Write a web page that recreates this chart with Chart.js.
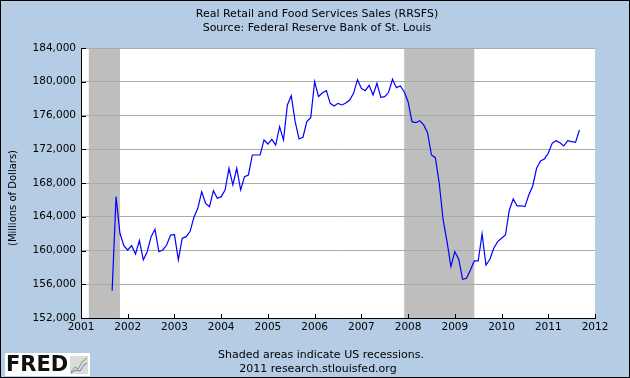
<!DOCTYPE html>
<html>
<head>
<meta charset="utf-8">
<script src="https://cdn.jsdelivr.net/npm/chart.js@4.4.1/dist/chart.umd.min.js"></script>
<style>
  html, body { margin: 0; padding: 0; background: #B4CDE5; }
  #wrap { width: 630px; height: 378px; position: relative; }
</style>
</head>
<body>
<div id="wrap"><canvas id="chart" width="630" height="378"></canvas></div>
<script>
// monthly observations, Sep 2001 - Sep 2011
const startMonth = '2001-09';
const sales = [
  155240, 166380, 162040, 160570,
  160060, 160570, 159590, 161170, 158880, 159860, 161640, 162510, 159860, 160060, 160650, 161840,
  161880, 158880, 161450, 161640, 162240, 163940, 165000, 166970, 165590, 165200, 167090, 166190,
  166380, 167170, 169740, 167770, 169740, 167170, 168750, 168950, 171320, 171320, 171320, 173100,
  172620, 173180, 172500, 174680, 173100, 177250, 178350, 175270, 173220, 173420, 175270, 175750,
  180010, 178230, 178700, 178940, 177440, 177130, 177440, 177250, 177480, 177840, 178630, 180250,
  179220, 178940, 179580, 178430, 179810, 178150, 178230, 178750, 180290, 179300, 179500, 178820,
  177640, 175270, 175150, 175390, 174880, 173970, 171320, 171000, 167960, 163620, 161050, 158090,
  159870, 158960, 156590, 156710, 157690, 158760, 158760, 161960, 158280, 158960, 160260, 161050,
  161450, 161840, 164800, 166110, 165280, 165300, 165200, 166580, 167650, 169740, 170610, 170850,
  171520, 172700, 173020, 172780, 172390, 173020, 172900, 172820, 174280
];
// US recessions (NBER), month the shading starts / ends
const recessionStart = ['2001-03', '2007-12'];
const recessionEnd = ['2001-11', '2009-06'];
const yTicks = [152000, 156000, 160000, 164000, 168000, 172000, 176000, 180000, 184000];
const xYears = [2001, 2002, 2003, 2004, 2005, 2006, 2007, 2008, 2009, 2010, 2011, 2012];

function toYear(s) {
  const p = s.split('-');
  return +p[0] + (+p[1] - 1) / 12;
}

const t0 = toYear(startMonth);
const points = sales.map((v, i) => ({ x: t0 + i / 12, y: v }));

const FONT = 'DejaVu Sans';

const fredDecor = {
  id: 'fredDecor',
  beforeDraw(chart) {
    const ctx = chart.ctx;
    ctx.save();
    ctx.fillStyle = '#B4CDE5';
    ctx.fillRect(0, 0, chart.width, chart.height);
    const a = chart.chartArea;
    ctx.fillStyle = '#ffffff';
    ctx.fillRect(a.left, a.top, a.right - a.left, a.bottom - a.top);
    // recession bars
    const xs = chart.scales.x;
    ctx.fillStyle = '#BEBEBE';
    recessionStart.forEach((s, i) => {
      const x1 = xs.getPixelForValue(toYear(s));
      const x2 = xs.getPixelForValue(toYear(recessionEnd[i]));
      ctx.fillRect(x1, a.top, x2 - x1, a.bottom - a.top);
    });
    ctx.restore();
  },
  afterDraw(chart) {
    const ctx = chart.ctx;
    const a = chart.chartArea;
    const xs = chart.scales.x, ys = chart.scales.y;
    ctx.save();
    // inward ticks
    ctx.strokeStyle = '#000';
    ctx.lineWidth = 1;
    ctx.beginPath();
    yTicks.forEach(v => {
      const y = Math.round(ys.getPixelForValue(v)) + 0.5;
      ctx.moveTo(a.left, y);
      ctx.lineTo(a.left + 5, y);
    });
    xYears.forEach(v => {
      const x = Math.round(xs.getPixelForValue(v)) + 0.5;
      ctx.moveTo(x, a.bottom);
      ctx.lineTo(x, a.bottom - 4);
    });
    ctx.stroke();

    // titles
    ctx.fillStyle = '#000';
    ctx.textAlign = 'center';
    ctx.textBaseline = 'middle';
    ctx.font = '11px "' + FONT + '"';
    ctx.fillText('Real Retail and Food Services Sales (RRSFS)', 317, 14);
    ctx.fillText('Source: Federal Reserve Bank of St. Louis', 317, 28);
    ctx.fillText('Shaded areas indicate US recessions.', 321, 355);
    ctx.fillText('2011 research.stlouisfed.org', 318, 369);

    // axis title
    ctx.save();
    ctx.translate(13, 198);
    ctx.rotate(-Math.PI / 2);
    ctx.font = '10px "' + FONT + '"';
    ctx.fillText('(Millions of Dollars)', 0, 0);
    ctx.restore();

    // FRED logo
    ctx.fillStyle = '#fff';
    ctx.fillRect(5, 353, 85, 23);
    ctx.fillStyle = '#111';
    ctx.textAlign = 'left';
    ctx.font = 'bold 21px "' + FONT + '"';
    ctx.fillText('FRED', 6, 365.5);
    ctx.fillStyle = '#dcdcdc';
    ctx.fillRect(70, 356, 18, 18);
    ctx.lineWidth = 1;
    ctx.strokeStyle = '#6aa84f';
    ctx.beginPath();
    ctx.moveTo(71, 372); ctx.lineTo(75, 367); ctx.lineTo(78, 369); ctx.lineTo(82, 362); ctx.lineTo(87, 358);
    ctx.stroke();
    ctx.strokeStyle = '#5b7fbf';
    ctx.beginPath();
    ctx.moveTo(71, 373); ctx.lineTo(76, 370); ctx.lineTo(80, 371); ctx.lineTo(84, 365); ctx.lineTo(87, 363);
    ctx.stroke();

    // outer frame
    ctx.strokeStyle = '#000';
    ctx.strokeRect(0.5, 0.5, chart.width - 1, chart.height - 1);
    ctx.restore();
  }
};

new Chart(document.getElementById('chart'), {
  type: 'line',
  data: {
    datasets: [{
      label: 'RRSFS',
      data: points,
      borderColor: '#0000FF',
      borderWidth: 1.2,
      pointRadius: 0,
      tension: 0,
      fill: false
    }]
  },
  options: {
    responsive: false,
    animation: false,
    devicePixelRatio: 1,
    layout: { padding: { left: 0, top: 48, right: 35, bottom: 0 } },
    plugins: { legend: { display: false }, title: { display: false }, tooltip: { enabled: false } },
    scales: {
      x: {
        type: 'linear',
        min: 2001,
        max: 2012,
        afterFit(s) { s.height = 60; },
        afterBuildTicks(s) { s.ticks = xYears.map(v => ({ value: v })); },
        grid: { display: false, drawTicks: false },
        border: { display: true, color: '#000', width: 1 },
        ticks: {
          autoSkip: false, maxRotation: 0, padding: 3, color: '#000',
          font: { family: FONT, size: 10.5 },
          callback: v => String(v)
        }
      },
      y: {
        min: 152000,
        max: 184000,
        afterFit(s) { s.width = 81; },
        afterBuildTicks(s) { s.ticks = yTicks.map(v => ({ value: v })); },
        grid: { color: '#AAAAAA', drawTicks: false, lineWidth: 1 },
        border: { display: true, color: '#000', width: 1 },
        ticks: {
          padding: 5, color: '#000',
          font: { family: FONT, size: 10.5 },
          callback: v => v.toLocaleString('en-US')
        }
      }
    }
  },
  plugins: [fredDecor]
});
</script>
</body>
</html>
